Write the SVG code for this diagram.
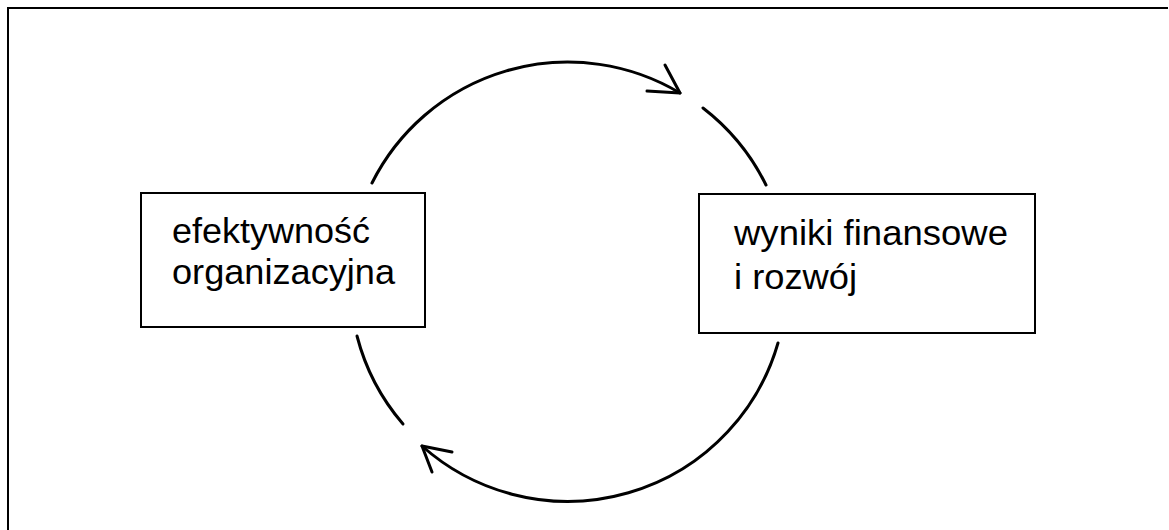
<svg xmlns="http://www.w3.org/2000/svg" width="1169" height="530" viewBox="0 0 1169 530">
  <style>
    .frame { fill: none; stroke: #000; stroke-width: 2; }
    .box { fill: #fff; stroke: #000; stroke-width: 2; }
    .label { font-family: "Liberation Sans", Arial, sans-serif; font-size: 35px; fill: #000; }
    .cycle { fill: none; stroke: #000; stroke-width: 3; stroke-linecap: round; stroke-linejoin: round; }
  </style>
  <rect width="1169" height="530" fill="#fff"/>
  <!-- outer frame: top and left edges -->
  <path class="frame" d="M8 530 V8 H1168"/>

  <!-- circular cycle connectors -->
  <g id="connectors">
    <path class="cycle" d="M372 183 A219 219 0 0 1 680 93"/>
    <polyline class="cycle" points="665,65 680,93 647,91"/>
    <path class="cycle" d="M703 108 A219 219 0 0 1 766 185"/>
    <path class="cycle" d="M778 343 A219 219 0 0 1 422 446"/>
    <polyline class="cycle" points="452,452 422,446 432,472"/>
    <path class="cycle" d="M357 336 A219 219 0 0 0 403 424"/>
  </g>

  <g id="node-efektywnosc">
    <rect class="box" x="141" y="193" width="284" height="134"/>
    <text class="label" x="172" y="243" textLength="198" lengthAdjust="spacingAndGlyphs">efektywność</text>
    <text class="label" x="172" y="284" textLength="223" lengthAdjust="spacingAndGlyphs">organizacyjna</text>
  </g>

  <g id="node-wyniki">
    <rect class="box" x="699" y="194" width="336" height="139"/>
    <text class="label" x="734" y="245" textLength="274" lengthAdjust="spacingAndGlyphs">wyniki finansowe</text>
    <text class="label" x="734" y="289" textLength="123" lengthAdjust="spacingAndGlyphs">i rozwój</text>
  </g>
</svg>
